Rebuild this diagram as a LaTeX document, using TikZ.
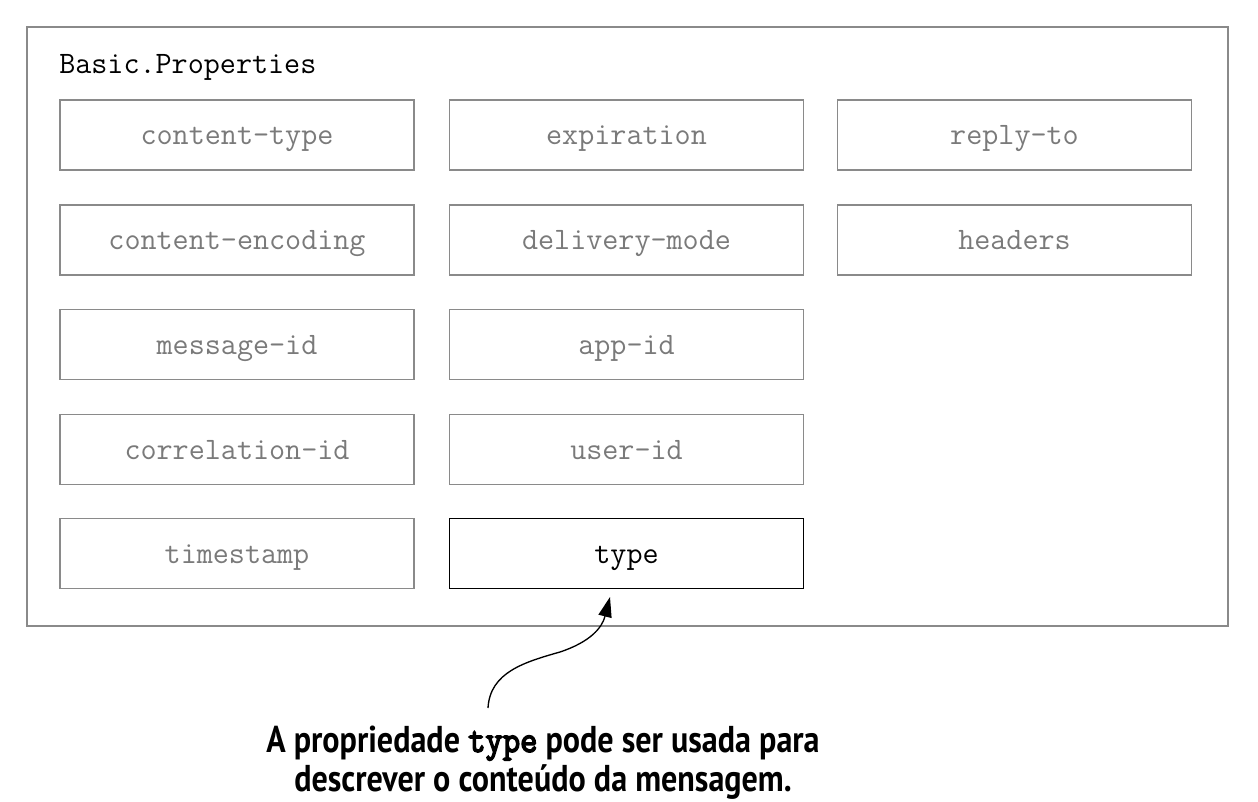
\documentclass[tikz,border=0pt]{standalone}
\usepackage{fontspec}
\newfontfamily\capfont{PT Sans}[FakeStretch=0.86]
\newfontfamily\captt{Latin Modern Mono}[FakeBold=4, FakeStretch=0.9]
\usetikzlibrary{arrows.meta}
\definecolor{boxgray}{HTML}{8A8A8A}
\definecolor{txtgray}{HTML}{7A7A7A}
\tikzset{
  monotext/.style={font=\fontsize{23.4}{26}\selectfont\ttfamily},
  prop/.style={draw=boxgray, line width=1.4pt, minimum width=265.5pt, minimum height=52.5pt,
    inner sep=0pt, text height=16pt, text depth=1pt, text=txtgray, monotext},
  selprop/.style={prop, draw=black, text=black},
  outer/.style={draw=boxgray, line width=1.4pt},
  pointer/.style={line width=1pt, -{Triangle[length=15pt,width=10pt]}}
}
\begin{document}
\begin{tikzpicture}[x=0.75pt,y=-0.75pt]
\useasboundingbox (0,0) rectangle (1258,802);
\draw[outer] (27,27) rectangle (1228,626);
\node[anchor=base west, inner sep=0pt, monotext] (title) at (59,74) {Basic.Properties};
% column 1
\node[prop] (ct) at (237,135) {content-type};
\node[prop] (ce) at (237,240) {content-encoding};
\node[prop] (mid) at (237,344.5) {message-id};
\node[prop] (cid) at (237,449.5) {correlation-id};
\node[prop] (ts) at (237,553.5) {timestamp};
% column 2
\node[prop] (exp) at (626.5,135) {expiration};
\node[prop] (dm) at (626.5,240) {delivery-mode};
\node[prop] (aid) at (626.5,344.5) {app-id};
\node[prop] (uid) at (626.5,449.5) {user-id};
\node[selprop] (type) at (626.5,553.5) {type};
% column 3
\node[prop] (rt) at (1014.5,135) {reply-to};
\node[prop] (hd) at (1014.5,240) {headers};
% caption
\node[align=center, inner sep=0pt, anchor=base, font=\capfont\bfseries\fontsize{28}{29.25}\selectfont] (cap) at (543,791)
  {A propriedade {\mdseries\captt type} pode ser usada para\\descrever o conteúdo da mensagem.};
\coordinate (start) at (488,708);
\coordinate (tip) at (610,597);
\draw[pointer] (start) .. controls (490,672) and (525,662) .. (560,652)
  .. controls (590,642) and (602,628) .. (tip);
\end{tikzpicture}
\end{document}
